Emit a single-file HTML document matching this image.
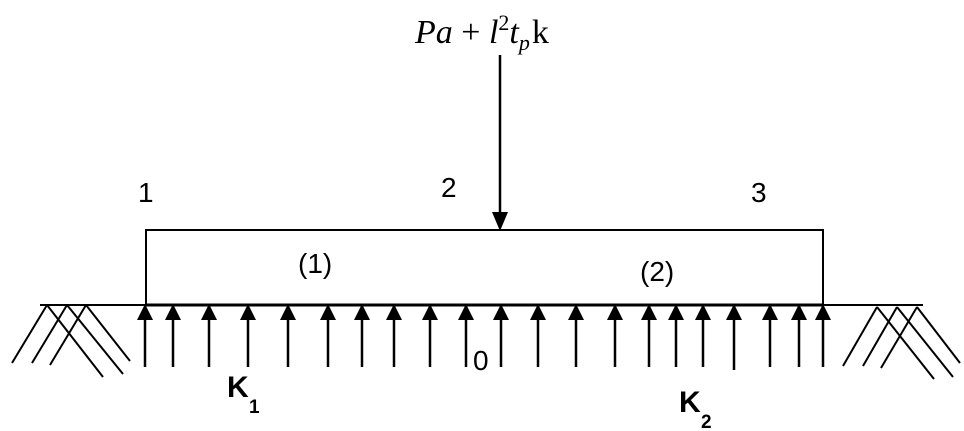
<!DOCTYPE html>
<html><head><style>body{margin:0;background:#fff}svg{display:block}</style></head><body>
<svg width="964" height="431" xmlns="http://www.w3.org/2000/svg">
<g stroke="#000" stroke-width="2" fill="none">
<line x1="40" y1="305" x2="923" y2="305"/>
<line x1="146" y1="305" x2="823" y2="305" stroke-width="3"/>
<polyline points="146,305 146,230 823,230 823,305"/>
<line x1="500" y1="55" x2="500" y2="215" stroke-width="2.5"/>
<line x1="12" y1="363" x2="47" y2="305"/><line x1="32" y1="363" x2="67" y2="305"/><line x1="50" y1="365" x2="86" y2="305"/>
<line x1="47" y1="305" x2="103" y2="377"/><line x1="67" y1="305" x2="123" y2="374"/><line x1="86" y1="305" x2="130" y2="361"/>
<line x1="843" y1="366" x2="877" y2="307"/><line x1="863" y1="366" x2="897" y2="307"/><line x1="881" y1="368" x2="917" y2="307"/>
<line x1="877" y1="307" x2="934" y2="379"/><line x1="897" y1="307" x2="953" y2="377"/><line x1="917" y1="307" x2="960" y2="363"/>
</g>
<polygon points="492,212 508,212 500,231" fill="#000"/>
<g id="arr" stroke="#000" stroke-width="2.5">
</g>
<script>
var xs=[145,173,209,248,288,328,362,394,430,466,501,538,576,615,649,676,703,734,770,799,823];
var g=document.getElementById('arr'),ns='http://www.w3.org/2000/svg';
xs.forEach(function(x,i){var l=document.createElementNS(ns,'line');l.setAttribute('x1',x);l.setAttribute('x2',x);l.setAttribute('y1',315);l.setAttribute('y2',(i==17)?370:367);g.appendChild(l);
var p=document.createElementNS(ns,'polygon');p.setAttribute('points',(x-8)+',320 '+(x+8)+',320 '+x+',304');p.setAttribute('fill','#000');p.setAttribute('stroke','none');g.appendChild(p);});
</script>
<g font-family="Liberation Sans, sans-serif" font-size="28" fill="#000">
<text x="138" y="202">1</text><text x="441" y="197">2</text><text x="751" y="202">3</text>
<text x="298" y="273">(1)</text><text x="640" y="281">(2)</text>
<text x="473" y="370">0</text>
<text x="227" y="397" font-weight="bold" font-size="30">K</text><text x="249" y="413" font-weight="bold" font-size="19">1</text>
<text x="679" y="412" font-weight="bold" font-size="30">K</text><text x="701" y="428" font-weight="bold" font-size="19">2</text>
</g>
<text x="415" y="43" font-family="Liberation Serif, serif" font-size="34" font-style="italic">Pa <tspan font-style="normal">+</tspan> l<tspan font-size="22" dy="-13" font-style="normal">2</tspan><tspan dy="13">t</tspan><tspan font-size="22" dy="7">p</tspan><tspan dy="-7" font-style="normal" dx="2">k</tspan></text>
</svg>
</body></html>
